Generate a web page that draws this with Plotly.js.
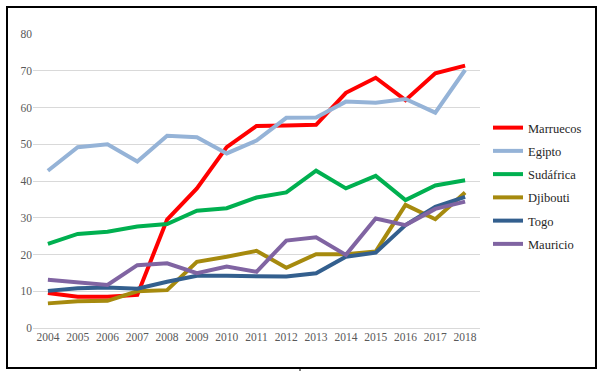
<!DOCTYPE html>
<html><head><meta charset="utf-8">
<script src="https://cdn.plot.ly/plotly-3.0.1.min.js"></script>
<style>html,body{margin:0;padding:0;background:#fff}#wrap{position:relative;width:603px;height:371px}#c{width:603px;height:371px}
#frame{position:absolute;left:6px;top:6px;width:587px;height:359px;border:2px solid #000;pointer-events:none}</style>
</head><body><div id="wrap"><div id="c"></div><div id="frame"></div></div>
<script>
const years = ['2004','2005','2006','2007','2008','2009','2010','2011','2012','2013','2014','2015','2016','2017','2018'];
const marruecos = [9.5, 8.5, 8.5, 9.0, 29.5, 38.0, 49.2, 55.0, 55.1, 55.3, 64.0, 68.1, 62.0, 69.3, 71.4];
const egipto    = [42.8, 49.2, 50.0, 45.3, 52.3, 51.9, 47.5, 51.0, 57.2, 57.3, 61.6, 61.3, 62.3, 58.6, 70.2];
const sudafrica = [22.9, 25.6, 26.2, 27.6, 28.3, 31.9, 32.6, 35.5, 36.9, 42.8, 38.0, 41.4, 34.8, 38.8, 40.2];
const djibouti  = [6.7, 7.3, 7.4, 10.0, 10.3, 18.0, 19.4, 21.0, 16.4, 20.1, 20.1, 20.8, 33.5, 29.6, 36.9];
const togo      = [10.1, 10.8, 11.0, 10.7, 12.6, 14.2, 14.2, 14.0, 14.0, 14.9, 19.4, 20.5, 28.0, 33.0, 35.7];
const mauricio  = [13.1, 12.3, 11.7, 17.1, 17.6, 14.9, 16.7, 15.3, 23.8, 24.7, 19.9, 29.8, 28.0, 32.4, 34.4];
const names  = ['Marruecos','Egipto','Sudáfrica','Djibouti','Togo','Mauricio'];
const series = [marruecos, egipto, sudafrica, djibouti, togo, mauricio];
const colors = ['#FF0000','#95B3D7','#00B050','#A68A0E','#335F8E','#8064A2'];
const yTicks = [0,10,20,30,40,50,60,70,80];

const traces = series.map((s,i)=>({
  x: years, y: s, name: names[i], type:'scatter', mode:'lines',
  legendgroup: 'g'+i,
  line:{color:colors[i], width:4}
}));

const W=603,H=371, L=33, R=480, T=34, B=328;
const px = v => (v-L)/(R-L);
const py = v => (B-v)/(B-T);
const serif = 'Liberation Serif';

const layout = {
  width:W, height:H,
  margin:{l:L, r:W-R, t:T, b:H-B, pad:0},
  paper_bgcolor:'#fff', plot_bgcolor:'#fff',
  font:{family:serif},
  showlegend:true,
  legend:{x:px(488), y:py(113), xanchor:'left', yanchor:'top',
    font:{family:serif, size:12.5, color:'#262626'},
    tracegroupgap:4, traceorder:'grouped', itemwidth:30, bgcolor:'rgba(0,0,0,0)'},
  xaxis:{type:'category', range:[-0.5,14.5], showgrid:false, zeroline:false,
    showline:false, ticks:'',
    tickfont:{family:serif, size:11.5, color:'#595959'}, fixedrange:true},
  yaxis:{range:[0,80], tickvals:yTicks, showgrid:true, gridcolor:'#D9D9D9', gridwidth:1,
    zeroline:true, zerolinecolor:'#D9D9D9', zerolinewidth:1, showline:false, ticks:'',
    tickfont:{family:serif, size:11.5, color:'#595959'}, fixedrange:true},
  shapes:[
    {type:'line', xref:'paper', yref:'paper', x0:px(300), x1:px(300), y0:py(367), y1:py(371),
      line:{color:'#000', width:1}}
  ]
};
Plotly.newPlot('c', traces, layout, {displayModeBar:false, staticPlot:true});
</script></body></html>
